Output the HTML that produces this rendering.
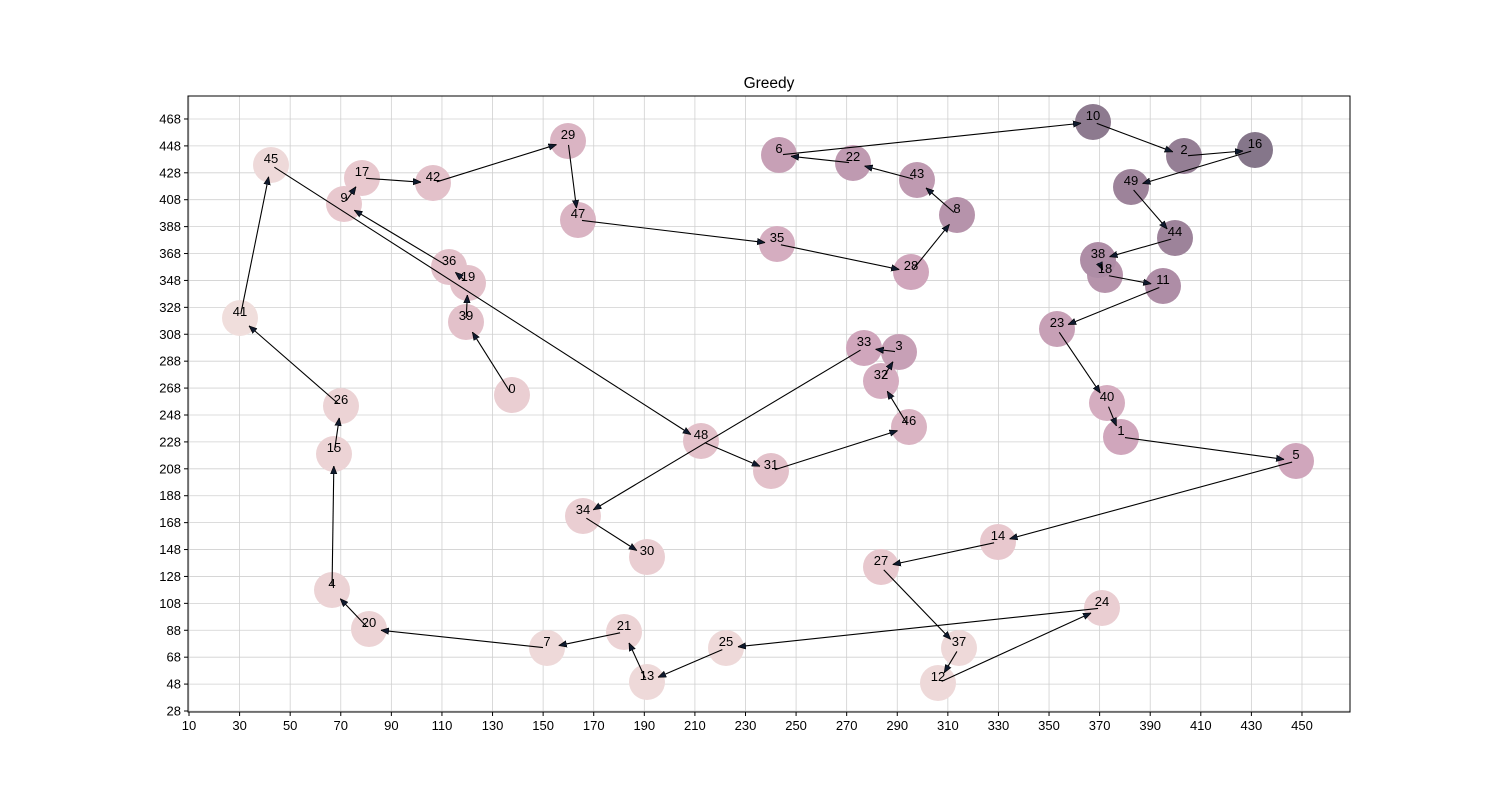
<!DOCTYPE html>
<html><head><meta charset="utf-8"><style>body{margin:0;background:#fff}svg{display:block}text{font-family:"Liberation Sans","DejaVu Sans",sans-serif}</style></head>
<body><svg id="s" width="1500" height="800" xmlns="http://www.w3.org/2000/svg"></svg>
<script>
const s=document.getElementById('s');let h='';
const L=188,R=1350,T=96,B=712;
h+='<rect width="1500" height="800" fill="#fff"/>';
h+='<defs><marker id="a" viewBox="0 0 10 10" refX="10" refY="5" markerWidth="8" markerHeight="8" orient="auto" markerUnits="userSpaceOnUse"><path d="M0,1 L10,5 L0,9 z" fill="#0f1a2e" stroke="#000" stroke-width="0.8"/></marker></defs>';
for(let i=0;i<=22;i++){const x=189+i*50.59;h+=`<line x1="${x}" y1="${T}" x2="${x}" y2="${B}" stroke="#d0d0d0" stroke-width="0.8"/><line x1="${x}" y1="${B}" x2="${x}" y2="${B+4}" stroke="#000"/><text x="${x}" y="${B+18}" font-size="13" text-anchor="middle">${10+i*20}</text>`;}
for(let i=0;i<=22;i++){const y=711-i*26.91;h+=`<line x1="${L}" y1="${y}" x2="${R}" y2="${y}" stroke="#d0d0d0" stroke-width="0.8"/><line x1="${L-4}" y1="${y}" x2="${L}" y2="${y}" stroke="#000"/><text x="${L-7}" y="${y+4.5}" font-size="13" text-anchor="end">${28+i*20}</text>`;}
const P={0:[512,395],1:[1121,437],2:[1184,156],3:[899,352],4:[332,590],5:[1296,461],6:[779,155],7:[547,648],8:[957,215],9:[344,204],10:[1093,122],11:[1163,286],12:[938,683],13:[647,682],14:[998,542],15:[334,454],16:[1255,150],17:[362,178],18:[1105,275],19:[468,283],20:[369,629],21:[624,632],22:[853,163],23:[1057,329],24:[1102,608],25:[726,648],26:[341,406],27:[881,567],28:[911,272],29:[568,141],30:[647,557],31:[771,471],32:[881,381],33:[864,348],34:[583,516],35:[777,244],36:[449,267],37:[959,648],38:[1098,260],39:[466,322],40:[1107,403],41:[240,318],42:[433,183],43:[917,180],44:[1175,238],45:[271,165],46:[909,427],47:[578,220],48:[701,441],49:[1131,187]};
const V=[0.2,0.5,0.85,0.55,0.15,0.5,0.55,0.1,0.65,0.25,0.9,0.7,0.1,0.1,0.25,0.15,0.95,0.25,0.65,0.3,0.15,0.15,0.6,0.55,0.2,0.1,0.15,0.25,0.5,0.4,0.2,0.3,0.45,0.5,0.2,0.45,0.3,0.1,0.7,0.3,0.45,0.05,0.3,0.6,0.8,0.1,0.4,0.4,0.3,0.8];
const C=[[242,228,224],[232,200,206],[208,166,188],[165,135,160],[125,114,132]];
function col(v){const t=v*(C.length-1),i=Math.min(Math.floor(t),C.length-2),f=t-i;return 'rgb('+C[i].map((c,k)=>Math.round(c+(C[i+1][k]-c)*f)).join(',')+')';}
for(const k in P){h+=`<circle cx="${P[k][0]}" cy="${P[k][1]}" r="18" fill="${col(V[k])}"/>`;}
const O=[0,39,19,36,9,17,42,29,47,35,28,8,43,22,6,10,2,16,49,44,38,18,11,23,40,1,5,14,27,37,12,24,25,13,21,7,20,4,15,26,41,45,48,31,46,32,3,33,34,30];
for(let i=0;i<O.length-1;i++){const a=P[O[i]],b=P[O[i+1]];const dx=b[0]-a[0],dy=b[1]-a[1],d=Math.hypot(dx,dy);const sh=Math.min(12,d/3);const ex=b[0]-dx/d*sh,ey=b[1]-dy/d*sh;const sx=a[0]+dx/d*4,sy=a[1]+dy/d*4;h+=`<line x1="${sx}" y1="${sy}" x2="${ex}" y2="${ey}" stroke="#000" stroke-width="1.1" marker-end="url(#a)"/>`;}
for(const k in P){h+=`<text x="${P[k][0]}" y="${P[k][1]-2}" font-size="13" text-anchor="middle">${k}</text>`;}
h+=`<rect x="${L}" y="${T}" width="${R-L}" height="${B-T}" fill="none" stroke="#000" stroke-width="1"/>`;
h+='<text x="769" y="88" font-size="15.5" text-anchor="middle">Greedy</text>';
s.innerHTML=h;
</script></body></html>
